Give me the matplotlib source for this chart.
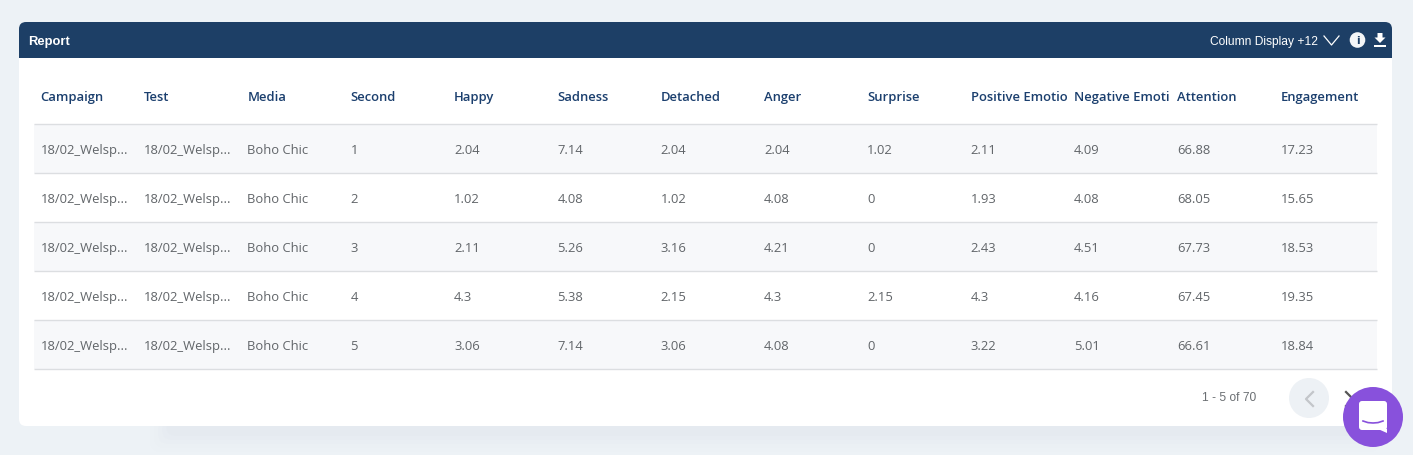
import matplotlib
matplotlib.use("Agg")
import matplotlib.pyplot as plt
from matplotlib.patches import FancyBboxPatch, Rectangle, Circle, Polygon

title = "Report"
columns = ["Campaign", "Test", "Media", "Second", "Happy", "Sadness", "Detached", "Anger",
           "Surprise", "Positive Emotio", "Negative Emoti", "Attention", "Engagement"]
campaign = ["18/02_Welsp..."] * 5
test = ["18/02_Welsp..."] * 5
media = ["Boho Chic"] * 5
second = ["1", "2", "3", "4", "5"]
happy = ["2.04", "1.02", "2.11", "4.3", "3.06"]
sadness = ["7.14", "4.08", "5.26", "5.38", "7.14"]
detached = ["2.04", "1.02", "3.16", "2.15", "3.06"]
anger = ["2.04", "4.08", "4.21", "4.3", "4.08"]
surprise = ["1.02", "0", "0", "2.15", "0"]
positive = ["2.11", "1.93", "2.43", "4.3", "3.22"]
negative = ["4.09", "4.08", "4.51", "4.16", "5.01"]
attention = ["66.88", "68.05", "67.73", "67.45", "66.61"]
engagement = ["17.23", "15.65", "18.53", "19.35", "18.84"]
table = [campaign, test, media, second, happy, sadness, detached, anger,
         surprise, positive, negative, attention, engagement]

W, H = 1413, 455
BG, NAVY, HEAD, BODY = "#edf2f6", "#1d3f66", "#1b3f6e", "#616569"
BAND, RULE = "#f7f8fa", "#dcdee1"
TF = ["Open Sans", "DejaVu Sans"]
UI = ["Liberation Sans", "DejaVu Sans"]
px = 72 / 100

fig = plt.figure(figsize=(W / 100, H / 100), dpi=100, facecolor=BG)
ax = fig.add_axes([0, 0, 1, 1])
ax.set_xlim(0, W)
ax.set_ylim(H, 0)
ax.axis("off")

# soft shadow below the card
for i, a in enumerate([0.006, 0.008, 0.010, 0.012, 0.014]):
    g = 20 - i * 4
    ax.add_patch(FancyBboxPatch((170 - g, 420), 1190 + 2 * g, 12 + g,
                                boxstyle="round,pad=0,rounding_size=10", fc="#8a97a8", ec="none", alpha=a, zorder=0.5))

# card and header
ax.add_patch(FancyBboxPatch((19, 22), 1373, 404, boxstyle="round,pad=0,rounding_size=7",
                            fc="white", ec="none", zorder=1))
ax.add_patch(FancyBboxPatch((19, 22), 1373, 30, boxstyle="round,pad=0,rounding_size=7",
                            fc=NAVY, ec="none", zorder=2))
ax.add_patch(Rectangle((19, 40), 1373, 18, fc=NAVY, ec="none", zorder=2))
ax.text(28.5, 45, title, color="white", fontsize=13 * px, fontweight="bold", family=UI, va="baseline", zorder=3)
ax.text(1210, 44.5, "Column Display +12", color="white", fontsize=12.0 * px, family=UI, va="baseline", zorder=3)
ax.plot([1324, 1331.5, 1339], [36, 45, 36], color="white", lw=0.9, zorder=3)
ax.add_patch(Circle((1357.5, 40), 7.8, fc="#f4f6f8", ec="none", zorder=3))
ax.text(1357.5, 40.5, "i", color=NAVY, fontsize=11 * px, fontweight="bold", family=["DejaVu Sans"],
        ha="center", va="center", zorder=4)
ax.add_patch(Polygon([(1377.5, 33), (1382.5, 33), (1382.5, 37.5), (1385.5, 37.5), (1380, 43), (1374.5, 37.5), (1377.5, 37.5)],
                     fc="white", ec="none", zorder=3))
ax.add_patch(Rectangle((1374, 45), 12, 1.6, fc="white", ec="none", zorder=3))

# table
X0, DX, Y0, DY = 40.6, 103.34, 149, 49
n_rows = len(second)
for r in range(n_rows):
    top = Y0 + r * DY - 25
    if r % 2 == 0:
        ax.add_patch(Rectangle((34, top), 1343, DY, fc=BAND, ec="none", zorder=1.5))
for r in range(n_rows + 1):
    y = Y0 + r * DY - 25
    ax.plot([34, 1377], [y, y], color=RULE, lw=1.0, zorder=2, solid_capstyle="butt")
for c, (name, vals) in enumerate(zip(columns, table)):
    x = X0 + c * DX
    ax.text(x, 101, name, color=HEAD, fontsize=13 * px, fontweight=600, family=TF, va="baseline", zorder=3)
    for r, v in enumerate(vals):
        ax.text(x, Y0 + r * DY + 5, v, color=BODY, fontsize=13 * px, family=TF, va="baseline", zorder=3)

# pagination
ax.text(1202, 401, "1 - 5 of 70", color="#6b6f73", fontsize=12 * px, family=UI, va="baseline", zorder=3)
ax.add_patch(Circle((1309, 398), 20, fc="#edf1f5", ec="none", zorder=3))
ax.plot([1313, 1306, 1313], [392, 399, 406], color="#c3c6ca", lw=1.6, zorder=4)
ax.plot([1346, 1353, 1346], [392, 399, 406], color="#555555", lw=1.6, zorder=4)

# chat launcher
ax.add_patch(Circle((1373, 417), 30, fc="#8851dc", ec="none", zorder=5))
ax.add_patch(FancyBboxPatch((1359, 401), 28, 29, boxstyle="round,pad=0,rounding_size=3",
                            fc="white", ec="none", zorder=6))
ax.add_patch(Polygon([(1378, 429), (1387, 429), (1387, 433)], fc="white", ec="none", zorder=6))
ax.plot([1363, 1368, 1373, 1378, 1383], [421, 422.6, 423, 422.6, 421], color="#8851dc", lw=1.2, zorder=7)

fig.savefig("out.png", dpi=100, facecolor=BG)
